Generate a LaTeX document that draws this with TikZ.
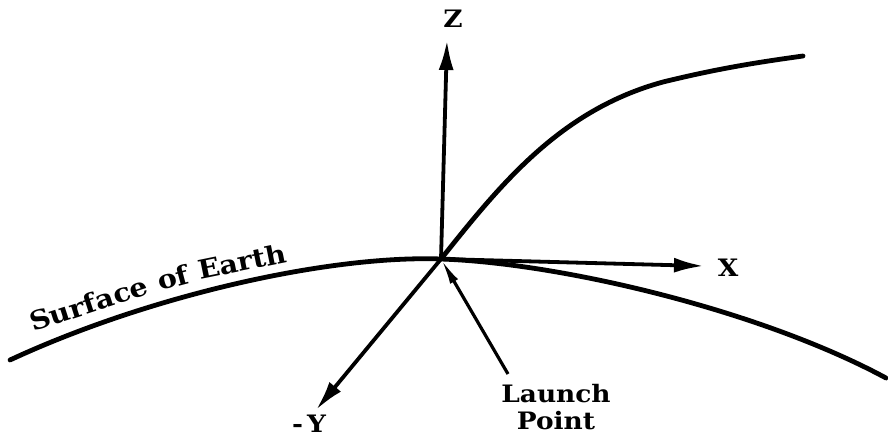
\documentclass[tikz,border=0pt]{standalone}
\usepackage{fontspec}
\setmainfont{DejaVu Serif}
\newfontfamily\widefont[FakeStretch=1.1]{DejaVu Serif}
\usetikzlibrary{arrows.meta}
\begin{document}
\begin{tikzpicture}[x=1pt,y=-1pt,
  axis/.style={line width=3.8pt,-{Latex[length=30pt,width=15pt]}},
  curve/.style={line width=4.8pt,line cap=round},
  lbl/.style={font=\widefont\fontsize{24}{27}\selectfont\bfseries,inner sep=0pt},
  surf/.style={font=\widefont\fontsize{26}{26}\selectfont\bfseries,inner sep=0pt,anchor=base west}]
\useasboundingbox (0,0) rectangle (888,444);
\coordinate (O) at (441,259);
\coordinate (ztip) at (447,40);
\coordinate (xtip) at (704,266);
\coordinate (ytip) at (316,410);
% earth surface
\draw[curve] (10,360) .. controls (150,295) and (330,255) .. (O)
             .. controls (560,263) and (760,310) .. (886,378);
% trajectory
\draw[curve] (O) .. controls (500,185) and (560,110) .. (663,82)
             .. controls (720,68) and (760,62) .. (803,56);
% axes
\draw[axis] (O) -- (ztip);
\draw[axis] (O) -- (xtip);
\draw[axis] (O) -- (ytip);
% labels
\node[lbl] (zl) at (453,19) {Z};
\node[lbl] (xl) at (728,268) {X};
\node[lbl] (yl) at (309,424) {-\,Y};
\node[lbl,align=center] (lp) at (556,407) {Launch\\Point};
\coordinate (lptail) at (508,374);
\draw[line width=3.2pt,-{Latex[length=26pt,width=9pt]}] (lptail) -- (O);
% surface text
\node[surf,rotate=18] (s1) at (33,332) {Surface};
\node[surf,rotate=15] (s2) at (160,291) {of};
\node[surf,rotate=11.5] (s3) at (200,280) {Earth};
\end{tikzpicture}
\end{document}
